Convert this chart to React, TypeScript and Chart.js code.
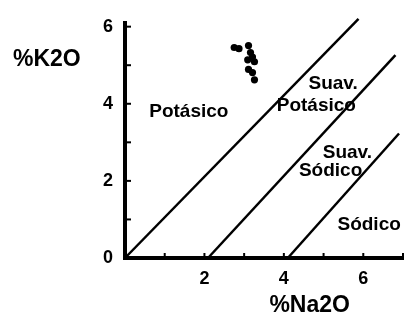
import { useEffect, useRef } from 'react';
import { Chart, registerables } from 'chart.js';

Chart.register(...registerables);

// Sample compositions (wt %)
const sampleNa2O = [2.75, 2.87, 3.11, 3.16, 3.21, 3.09, 3.26, 3.11, 3.21, 3.26];
const sampleK2O = [5.46, 5.43, 5.51, 5.33, 5.21, 5.14, 5.09, 4.89, 4.81, 4.62];

// Field boundaries: [start, end] in Na2O and K2O
const limit1Na2O = [0, 5.88];
const limit1K2O = [0, 6.2];
const limit2Na2O = [2.09, 6.81];
const limit2K2O = [0, 5.26];
const limit3Na2O = [4.1, 6.9];
const limit3K2O = [0, 3.23];

// Field names and where they sit (left edge, vertical middle)
const fieldText = ['Potásico', 'Suav.', 'Potásico', 'Suav.', 'Sódico', 'Sódico'];
const fieldNa2O = [0.61, 4.62, 3.82, 4.98, 4.38, 5.35];
const fieldK2O = [3.78, 4.52, 3.95, 2.74, 2.27, 0.86];

// Axes
const xMax = 7;
const yMax = 6.1;
const xTickLabels = [2, 4, 6];
const yTickLabels = [0, 2, 4, 6];
const xTitle = '%Na2O';
const yTitle = '%K2O';

const FONT = "'Liberation Sans', Arial, Helvetica, sans-serif";

const boundary = (na: number[], k: number[]) => ({
  type: 'line' as const,
  data: na.map((v, i) => ({ x: v, y: k[i] })),
  borderColor: '#000',
  borderWidth: 2.5,
  pointRadius: 0,
  showLine: true,
  clip: false as any,
});

const annotations = {
  id: 'annotations',
  afterDatasetsDraw(chart: any) {
    const { ctx, chartArea } = chart;
    const x = chart.scales.x;
    const y = chart.scales.y;
    ctx.save();
    ctx.strokeStyle = '#000';
    ctx.lineWidth = 2;
    // tick marks pointing into the plot
    for (const t of y.ticks) {
      if (t.value <= 0 || !Number.isInteger(t.value)) continue;
      const py = y.getPixelForValue(t.value);
      ctx.beginPath();
      ctx.moveTo(chartArea.left, py);
      ctx.lineTo(chartArea.left + 6, py);
      ctx.stroke();
    }
    for (const t of x.ticks) {
      if (t.value <= 0 || !Number.isInteger(t.value)) continue;
      const px = x.getPixelForValue(t.value);
      ctx.beginPath();
      ctx.moveTo(px, chartArea.bottom);
      ctx.lineTo(px, chartArea.bottom - 5);
      ctx.stroke();
    }
    ctx.fillStyle = '#000';
    ctx.textBaseline = 'middle';
    ctx.textAlign = 'left';
    ctx.font = `bold 19px ${FONT}`;
    fieldText.forEach((t, i) => {
      ctx.fillText(t, x.getPixelForValue(fieldNa2O[i]), y.getPixelForValue(fieldK2O[i]));
    });
    ctx.font = `bold 23px ${FONT}`;
    ctx.fillText(yTitle, 13, y.getPixelForValue(5.14));
    ctx.textAlign = 'center';
    ctx.fillText(xTitle, x.getPixelForValue(4.65), chartArea.bottom + 48);
    ctx.restore();
  },
};

export default function App() {
  const ref = useRef<HTMLCanvasElement>(null);

  useEffect(() => {
    const canvas = ref.current;
    if (!canvas) return;
    const tickFont = { family: FONT, size: 18, weight: 'bold' as const };
    const chart = new Chart(canvas, {
      type: 'scatter',
      data: {
        datasets: [
          {
            data: sampleNa2O.map((v, i) => ({ x: v, y: sampleK2O[i] })),
            backgroundColor: '#000',
            borderWidth: 0,
            pointRadius: 3.6,
          },
          boundary(limit1Na2O, limit1K2O) as any,
          boundary(limit2Na2O, limit2K2O) as any,
          boundary(limit3Na2O, limit3K2O) as any,
        ],
      },
      options: {
        responsive: false,
        animation: false,
        layout: { padding: { top: 11, left: 0, right: 0, bottom: 0 } },
        plugins: { legend: { display: false }, tooltip: { enabled: false } },
        scales: {
          x: {
            type: 'linear',
            min: 0,
            max: xMax,
            afterFit: (s: any) => {
              s.height = 66;
            },
            grid: { display: false, drawTicks: false },
            border: { display: true, color: '#000', width: 4 },
            ticks: {
              stepSize: 1,
              includeBounds: false,
              autoSkip: false,
              maxRotation: 0,
              padding: 10,
              color: '#000',
              font: tickFont,
              callback: (v: any) => (xTickLabels.includes(v) ? String(v) : ''),
            },
          },
          y: {
            type: 'linear',
            min: 0,
            max: yMax,
            afterFit: (s: any) => {
              s.width = 125;
            },
            grid: { display: false, drawTicks: false },
            border: { display: true, color: '#000', width: 4 },
            ticks: {
              stepSize: 1,
              includeBounds: false,
              autoSkip: false,
              padding: 12,
              color: '#000',
              font: tickFont,
              callback: (v: any) => (yTickLabels.includes(v) ? String(v) : ''),
            },
          },
        },
      },
      plugins: [annotations],
    });
    return () => chart.destroy();
  }, []);

  return (
    <div style={{ position: 'fixed', left: 0, top: 0, width: 413, height: 324, background: '#fff' }}>
      <canvas ref={ref} width={413} height={324} style={{ display: 'block' }} />
    </div>
  );
}
